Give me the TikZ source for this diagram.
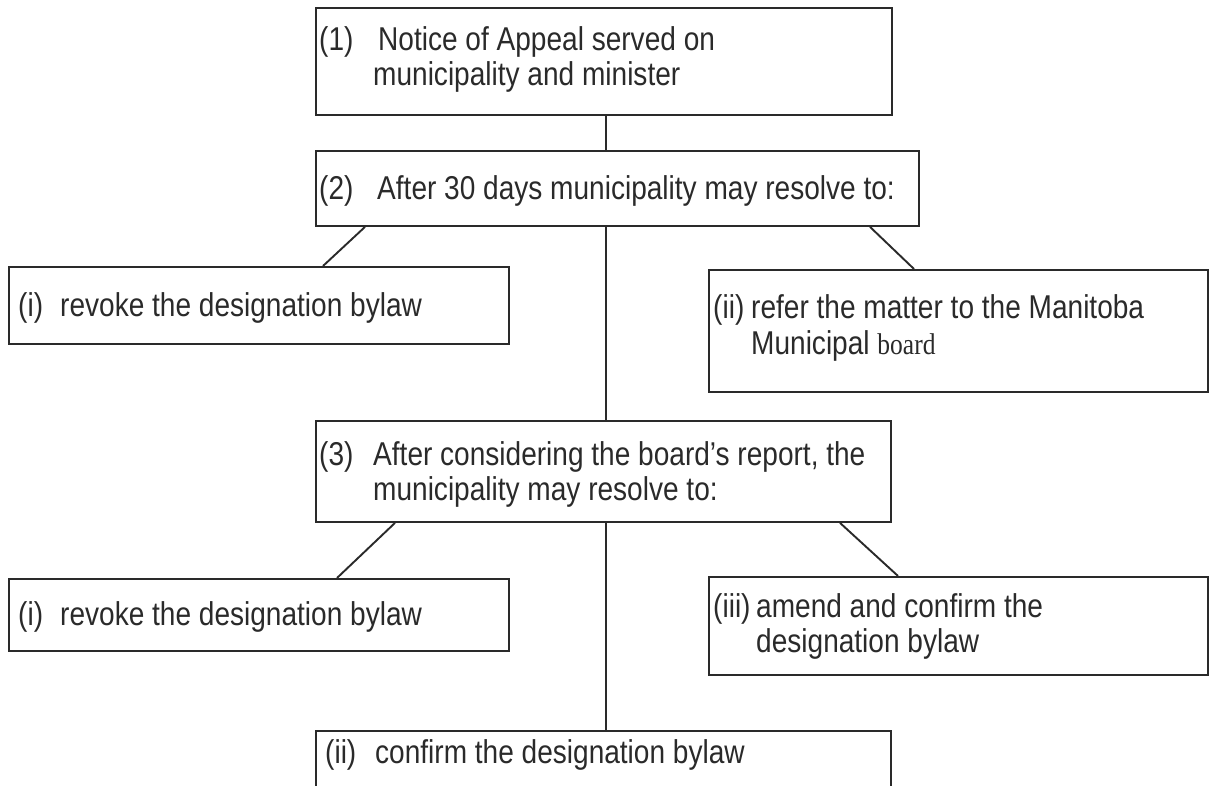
\documentclass[tikz,border=0pt]{standalone}
\usepackage{fontspec}
\setmainfont[FakeStretch=0.85]{Liberation Sans}
\newfontfamily\serifboard[FakeStretch=0.85]{Liberation Serif}
\definecolor{ink}{HTML}{2A2A2A}
\tikzset{
  box/.style={draw=ink, line width=1.9pt, rectangle, inner sep=0pt, anchor=north west},
  txt/.style={anchor=base west, inner sep=0pt, text=ink, font=\fontsize{33}{38}\selectfont},
  conn/.style={draw=ink, line width=1.9pt}
}
\begin{document}
\begin{tikzpicture}[x=1pt,y=-1pt]
\useasboundingbox (0,0) rectangle (1209,786);
\clip (0,0) rectangle (1209,786);
% boxes
\node[box, minimum width=576pt, minimum height=107pt] (b1) at (315,7) {};
\node[box, minimum width=603pt, minimum height=75pt] (b2) at (315,150) {};
\node[box, minimum width=500pt, minimum height=77pt] (bi1) at (8,266) {};
\node[box, minimum width=499pt, minimum height=122pt] (bii) at (708,269) {};
\node[box, minimum width=575pt, minimum height=101pt] (b3) at (315,420) {};
\node[box, minimum width=500pt, minimum height=72pt] (bi2) at (8,578) {};
\node[box, minimum width=499pt, minimum height=98pt] (biii) at (708,576) {};
\node[box, minimum width=575pt, minimum height=90pt] (bb) at (315,730) {};
% texts
\node[txt] (t1n) at (319,51) {(1)};
\node[txt] (t1a) at (378,51) {Notice of Appeal served on};
\node[txt] (t1b) at (373,86) {municipality and minister};
\node[txt] (t2n) at (319,200) {(2)};
\node[txt] (t2a) at (377,200) {After 30 days municipality may resolve to:};
\node[txt] (ti1n) at (18,316) {(i)};
\node[txt] (ti1a) at (60,316) {revoke the designation bylaw};
\node[txt] (tiin) at (713,318) {(ii)};
\node[txt] (tiia) at (751,318) {refer the matter to the Manitoba};
\node[txt] (tiib) at (751,354) {Municipal {\serifboard\fontsize{30}{36}\selectfont board}};
\node[txt] (t3n) at (319,465) {(3)};
\node[txt] (t3a) at (373,465) {After considering the board’s report, the};
\node[txt] (t3b) at (373,500) {municipality may resolve to:};
\node[txt] (ti2n) at (18,625) {(i)};
\node[txt] (ti2a) at (60,625) {revoke the designation bylaw};
\node[txt] (tiiin) at (713,617) {(iii)};
\node[txt] (tiiia) at (756,617) {amend and confirm the};
\node[txt] (tiiib) at (756,652) {designation bylaw};
\node[txt] (tbn) at (325,763) {(ii)};
\node[txt] (tba) at (375,763) {confirm the designation bylaw};
% connectors
\draw[conn] ([xshift=291pt]b1.south west) -- ([xshift=291pt]b2.north west);
\draw[conn] ([xshift=50pt]b2.south west) -- ([xshift=315pt]bi1.north west);
\draw[conn] ([xshift=555pt]b2.south west) -- ([xshift=206pt]bii.north west);
\draw[conn] ([xshift=291pt]b2.south west) -- ([xshift=291pt]b3.north west);
\draw[conn] ([xshift=80pt]b3.south west) -- ([xshift=329pt]bi2.north west);
\draw[conn] ([xshift=525pt]b3.south west) -- ([xshift=190pt]biii.north west);
\draw[conn] ([xshift=291pt]b3.south west) -- ([xshift=291pt]bb.north west);
\end{tikzpicture}
\end{document}
